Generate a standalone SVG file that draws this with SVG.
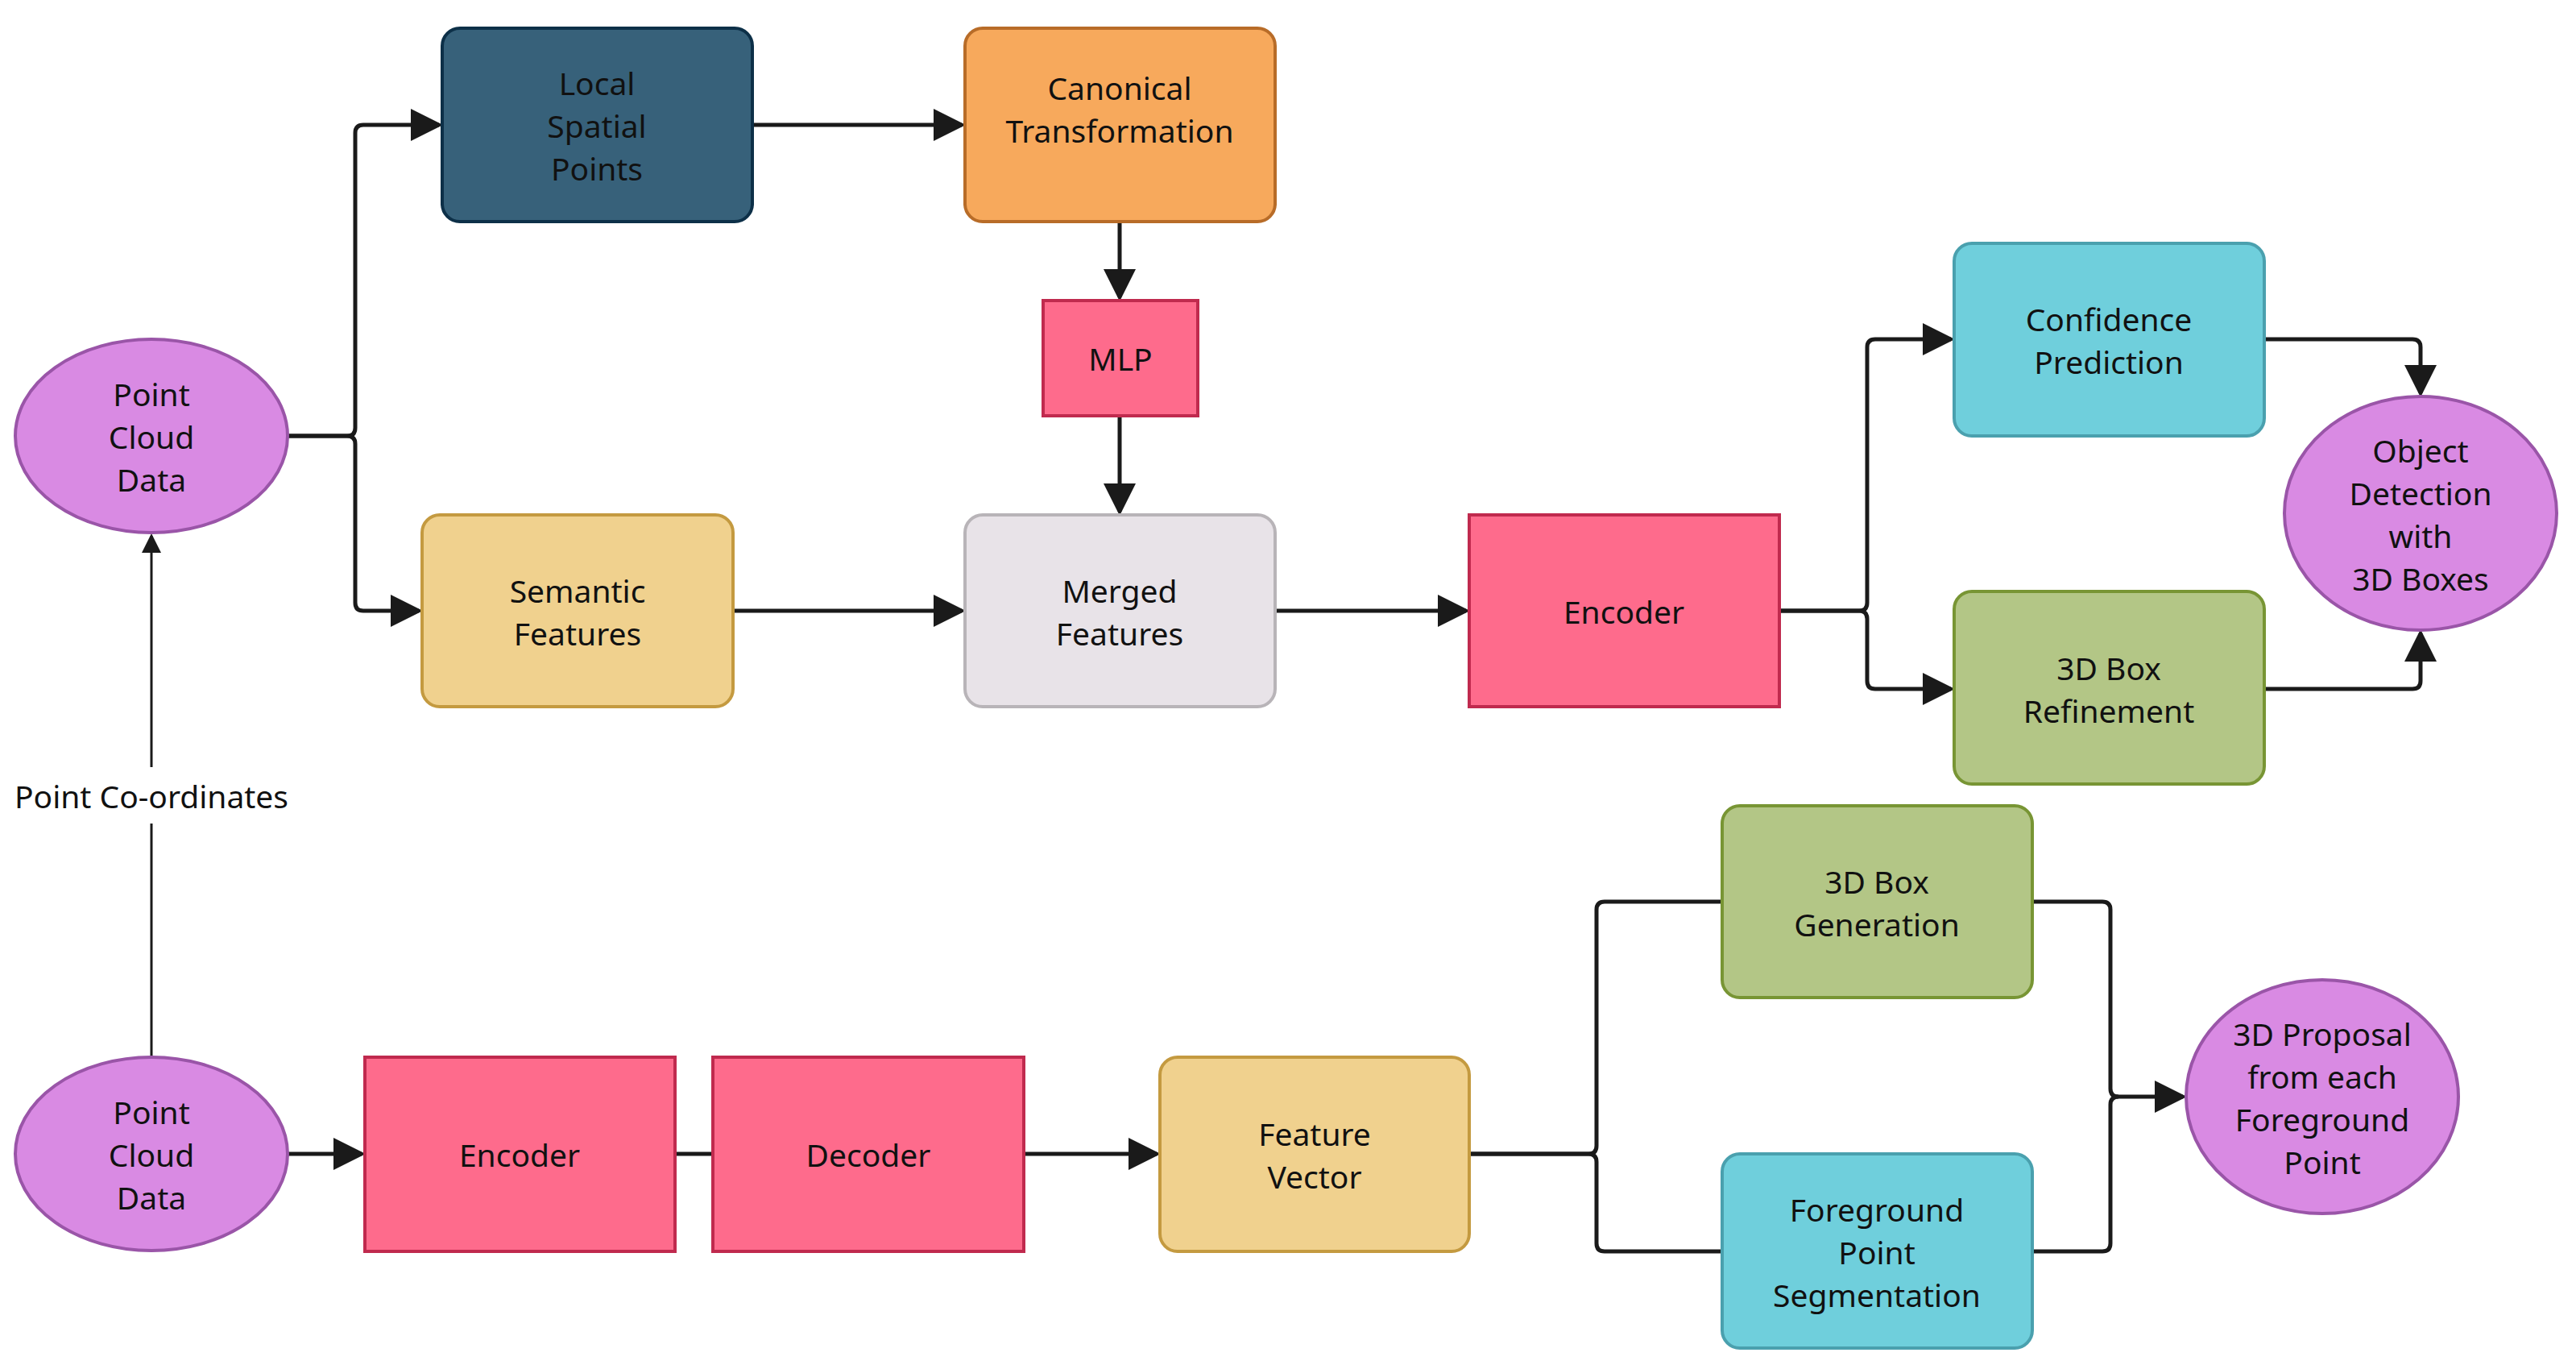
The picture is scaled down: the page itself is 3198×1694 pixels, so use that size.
<svg xmlns="http://www.w3.org/2000/svg" width="3198" height="1694" viewBox="0 0 3198 1694">
<style>
text{font-family:"Noto Sans","Open Sans",sans-serif;font-size:39px;fill:#111;text-anchor:middle;dominant-baseline:central}
.b{stroke-width:4}
.c path{fill:none;stroke:#1a1a1a;stroke-width:5}
.c path.t{stroke-width:3}
</style>
<defs>
<marker id="a" markerWidth="8" markerHeight="8" refX="7" refY="4" orient="auto" markerUnits="strokeWidth"><path d="M0,0L8,4L0,8z" fill="#1a1a1a"/></marker>
</defs>
<rect width="3198" height="1694" fill="#fff"/>
<g class="c">
<path d="M357,541H431Q441,541 441,531V165Q441,155 451,155H545" marker-end="url(#a)"/>
<path d="M357,541H431Q441,541 441,551V748Q441,758 451,758H520" marker-end="url(#a)"/>
<path d="M934,155H1194" marker-end="url(#a)"/>
<path d="M1390,275V369" marker-end="url(#a)"/>
<path d="M1390,516V635" marker-end="url(#a)"/>
<path d="M910,758H1194" marker-end="url(#a)"/>
<path d="M1583,758H1820" marker-end="url(#a)"/>
<path d="M2209,758H2308Q2318,758 2318,748V431Q2318,421 2328,421H2422" marker-end="url(#a)"/>
<path d="M2209,758H2308Q2318,758 2318,768V845Q2318,855 2328,855H2422" marker-end="url(#a)"/>
<path d="M2811,421H2995Q3005,421 3005,431V488" marker-end="url(#a)"/>
<path d="M2811,855H2995Q3005,855 3005,845V786" marker-end="url(#a)"/>
<path class="t" d="M188,1312V1022M188,952V665" marker-end="url(#a)"/>
<path d="M357,1432H449" marker-end="url(#a)"/>
<path d="M838,1432H885"/>
<path d="M1271,1432H1436" marker-end="url(#a)"/>
<path d="M1824,1432H1972Q1982,1432 1982,1422V1129Q1982,1119 1992,1119H2138"/>
<path d="M1824,1432H1972Q1982,1432 1982,1442V1543Q1982,1553 1992,1553H2138"/>
<path d="M2523,1119H2610Q2620,1119 2620,1129V1351Q2620,1361 2630,1361H2710" marker-end="url(#a)"/>
<path d="M2523,1553H2610Q2620,1553 2620,1543V1371Q2620,1361 2630,1361"/>
</g>
<g id="pcd1"><ellipse class="b" cx="188" cy="541" rx="169" ry="120" fill="#d98ae3" stroke="#9a55a8"/><text x="188" y="488">Point</text><text x="188" y="541">Cloud</text><text x="188" y="594">Data</text></g>
<g id="lsp"><rect class="b" x="549" y="35" width="385" height="240" rx="22" fill="#37617a" stroke="#0d3048"/><text x="741" y="102">Local</text><text x="741" y="155">Spatial</text><text x="741" y="208">Points</text></g>
<g id="canon"><rect class="b" x="1198" y="35" width="385" height="240" rx="22" fill="#f7a95c" stroke="#b86c28"/><text x="1390" y="108">Canonical</text><text x="1390" y="161">Transformation</text></g>
<g id="mlp"><rect class="b" x="1295" y="373" width="192" height="143" fill="#fe6b8c" stroke="#c02a4e"/><text x="1391" y="444">MLP</text></g>
<g id="sem"><rect class="b" x="524" y="639" width="386" height="238" rx="22" fill="#f0d18e" stroke="#c49a40"/><text x="717" y="732">Semantic</text><text x="717" y="785">Features</text></g>
<g id="merged"><rect class="b" x="1198" y="639" width="385" height="238" rx="22" fill="#e8e3e8" stroke="#b8b4b8"/><text x="1390" y="732">Merged</text><text x="1390" y="785">Features</text></g>
<g id="enc1"><rect class="b" x="1824" y="639" width="385" height="238" fill="#fe6b8c" stroke="#c02a4e"/><text x="2016" y="758">Encoder</text></g>
<g id="conf"><rect class="b" x="2426" y="302" width="385" height="239" rx="22" fill="#6fcfdc" stroke="#4aa0ae"/><text x="2618" y="395">Confidence</text><text x="2618" y="448">Prediction</text></g>
<g id="refine"><rect class="b" x="2426" y="734" width="385" height="239" rx="22" fill="#b3c686" stroke="#789534"/><text x="2618" y="828">3D Box</text><text x="2618" y="881">Refinement</text></g>
<g id="obj"><ellipse class="b" cx="3005" cy="637" rx="169" ry="145" fill="#d98ae3" stroke="#9a55a8"/><text x="3005" y="558">Object</text><text x="3005" y="611">Detection</text><text x="3005" y="664">with</text><text x="3005" y="717">3D Boxes</text></g>
<g id="coord"><text x="188" y="987">Point Co-ordinates</text></g>
<g id="pcd2"><ellipse class="b" cx="188" cy="1432" rx="169" ry="120" fill="#d98ae3" stroke="#9a55a8"/><text x="188" y="1379">Point</text><text x="188" y="1432">Cloud</text><text x="188" y="1485">Data</text></g>
<g id="enc2"><rect class="b" x="453" y="1312" width="385" height="241" fill="#fe6b8c" stroke="#c02a4e"/><text x="645" y="1432">Encoder</text></g>
<g id="dec"><rect class="b" x="885" y="1312" width="386" height="241" fill="#fe6b8c" stroke="#c02a4e"/><text x="1078" y="1432">Decoder</text></g>
<g id="fv"><rect class="b" x="1440" y="1312" width="384" height="241" rx="22" fill="#f0d18e" stroke="#c49a40"/><text x="1632" y="1406">Feature</text><text x="1632" y="1459">Vector</text></g>
<g id="gen"><rect class="b" x="2138" y="1000" width="385" height="238" rx="22" fill="#b3c686" stroke="#789534"/><text x="2330" y="1093">3D Box</text><text x="2330" y="1146">Generation</text></g>
<g id="fps"><rect class="b" x="2138" y="1432" width="385" height="241" rx="22" fill="#6fcfdc" stroke="#4aa0ae"/><text x="2330" y="1500">Foreground</text><text x="2330" y="1553">Point</text><text x="2330" y="1606">Segmentation</text></g>
<g id="prop"><ellipse class="b" cx="2883" cy="1361" rx="169" ry="145" fill="#d98ae3" stroke="#9a55a8"/><text x="2883" y="1282">3D Proposal</text><text x="2883" y="1335">from each</text><text x="2883" y="1388">Foreground</text><text x="2883" y="1441">Point</text></g>
</svg>
